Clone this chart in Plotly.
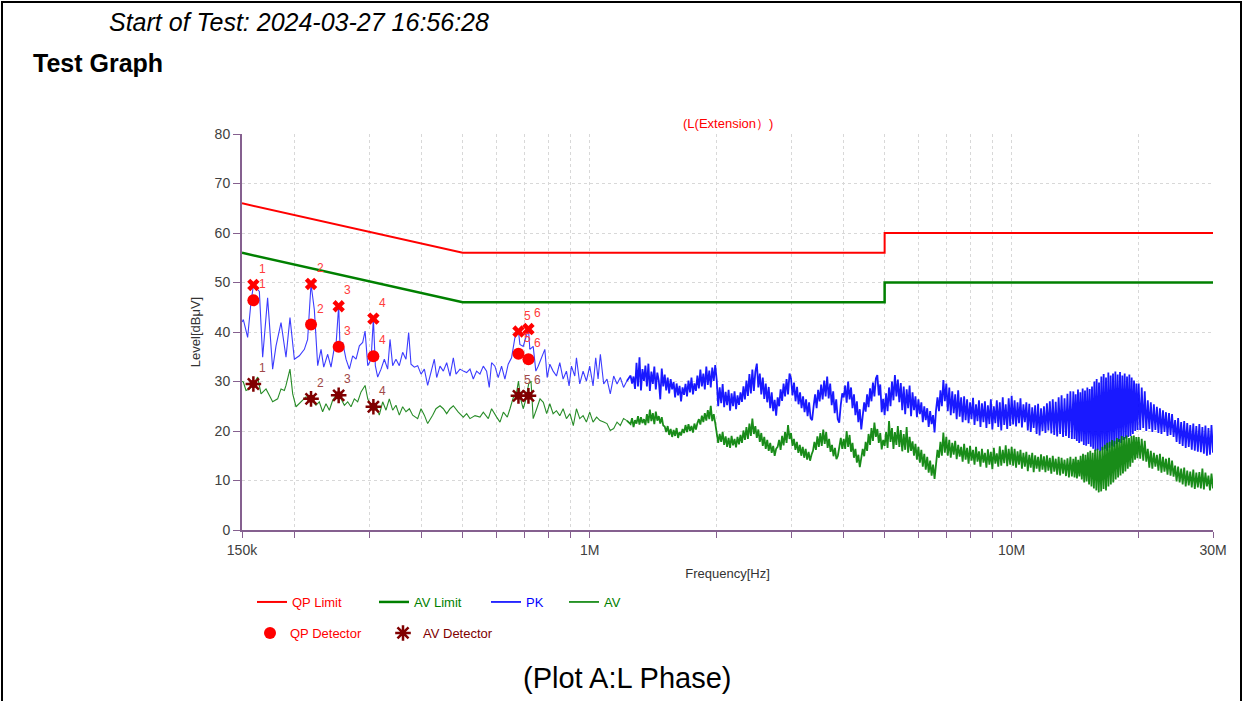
import numpy as np
import plotly.graph_objects as go

# ---------------- data ----------------
qp_limit_hz = [150e3, 500e3, 5e6, 5e6, 30e6]
qp_limit_db = [66, 56, 56, 60, 60]
av_limit_hz = [150e3, 500e3, 5e6, 5e6, 30e6]
av_limit_db = [56, 46, 46, 50, 50]

marker_no = ["1", "2", "3", "4", "5", "6"]
marker_khz = [159.6, 218.6, 254.2, 307.2, 678.0, 716.0]
pk_marker_db = [49.5, 49.7, 45.2, 42.7, 40.1, 40.6]
qp_marker_db = [46.4, 41.5, 37.0, 35.1, 35.6, 34.5]
av_marker_db = [29.5, 26.5, 27.2, 24.9, 27.1, 27.1]

# low-frequency part of the sweep (explicit frequencies, kHz)
pk_low_khz = [150.0, 151.1, 154.7, 157.5, 159.6, 161.9, 164.9, 167.9, 172.5, 177.3,
              180.6, 185.6, 190.7, 194.9, 199.6, 205.1, 210.8, 214.6, 218.6, 222.6,
              226.7, 230.9, 234.3, 239.4, 243.8, 248.3, 250.5, 254.2, 256.1, 259.8,
              264.6, 269.5, 274.4, 279.5, 284.6, 289.8, 293.6, 297.9, 303.4, 307.2,
              310.5, 314.5, 320.3, 326.1, 332.1, 336.4, 341.3, 347.5, 353.9, 360.4,
              367.0, 372.4, 377.2, 384.1, 391.2, 398.4, 405.7, 413.1, 420.7, 428.4,
              434.0, 441.9, 450.0, 458.3, 466.7, 475.2, 482.2, 492.8, 501.8, 511.0,
              520.4, 529.9, 539.6, 549.5, 559.6, 569.8, 578.1, 585.5, 596.2, 607.1,
              618.3, 629.6, 641.1, 652.9, 664.8, 678.0, 683.3, 695.8, 716.0, 721.5,
              734.7, 745.5, 755.0, 768.8, 782.9, 792.9, 804.5, 819.2, 834.2, 849.5,
              865.1, 880.9, 893.8, 905.3, 921.9, 930.3, 947.3, 964.7, 982.3, 1000.3,
              1018.6, 1033.5, 1046.9, 1060.0, 1079.5, 1099, 1119, 1140, 1161, 1182,
              1203, 1225]
pk_low_db = [42.0, 42.5, 38.9, 45.9, 49.4, 48.9, 48.2, 34.9, 46.9, 32.5,
             37.2, 41.9, 34.9, 42.9, 34.5, 35.2, 36.5, 38.5, 49.7, 44.5,
             33.2, 36.5, 32.9, 35.5, 32.9, 36.9, 37.2, 45.3, 36.9, 37.9,
             34.5, 32.5, 35.2, 34.5, 37.2, 37.9, 40.2, 33.2, 34.5, 42.7,
             33.2, 30.9, 32.5, 34.5, 32.5, 38.5, 33.2, 34.5, 33.2, 35.9,
             34.5, 39.9, 33.5, 32.9, 33.2, 31.5, 32.5, 29.2, 31.9, 34.5,
             30.8, 33.1, 32.1, 33.8, 31.1, 34.8, 31.5, 32.5, 32.1, 31.8,
             32.5, 30.5, 32.1, 31.5, 33.1, 32.1, 28.8, 33.8, 33.1, 30.8,
             33.1, 30.5, 33.5, 34.8, 38.8, 40.2, 37.5, 37.1, 40.6, 36.5,
             37.1, 32.1, 33.1, 34.8, 36.5, 30.8, 33.5, 32.1, 31.1, 33.8,
             30.5, 32.1, 29.1, 33.1, 31.1, 34.8, 29.5, 32.1, 30.1, 33.1,
             29.1, 34.8, 30.5, 35.5, 29.5, 30.5, 27.5, 31.1, 29.5, 30.8,
             28.8, 30.1]

av_low_khz = [150.0, 151.1, 153.3, 156.1, 159.6, 163.4, 166.4, 171.0, 174.1, 177.3,
              182.2, 185.6, 189.0, 190.7, 194.9, 197.8, 201.4, 207.0, 212.7, 218.6,
              224.6, 228.7, 232.9, 237.2, 241.6, 246.0, 250.5, 254.2, 257.5, 262.2,
              267.0, 271.9, 276.9, 282.0, 287.2, 293.6, 297.9, 303.4, 307.2, 311.6,
              317.3, 323.2, 329.1, 335.1, 341.3, 347.5, 353.9, 360.4, 367.0, 373.9,
              380.7, 391.2, 398.4, 405.7, 413.1, 424.5, 432.3, 441.9, 450.0, 458.3,
              466.7, 475.2, 488.3, 501.8, 511.0, 520.4, 534.9, 549.5, 559.6, 575.1,
              585.5, 602.0, 613.0, 624.3, 638.0, 647.4, 659.3, 669.0, 678.0, 686.1,
              695.8, 706.5, 716.8, 726.0, 734.7, 748.9, 762.6, 776.6, 790.8, 804.5,
              819.2, 834.2, 849.5, 865.1, 880.9, 898.2, 914.6, 930.3, 947.3, 964.7,
              982.3, 1000.3, 1018.6, 1038.7, 1057.8, 1079.5, 1099, 1119, 1140, 1161,
              1182, 1203, 1225]
av_low_db = [30.0, 29.9, 28.2, 28.5, 29.5, 30.9, 27.5, 28.5, 27.2, 25.9,
             26.5, 28.5, 28.2, 29.2, 32.5, 27.5, 24.9, 25.9, 26.9, 26.4,
             25.2, 25.9, 23.9, 25.5, 24.2, 26.2, 27.2, 26.9, 26.5, 25.2,
             25.9, 24.9, 26.5, 25.9, 27.9, 29.2, 26.5, 24.9, 24.6, 25.2,
             23.2, 25.9, 24.2, 26.5, 24.2, 25.2, 23.2, 24.9, 23.9, 24.5,
             23.2, 22.5, 24.5, 23.2, 21.5, 23.2, 24.5, 25.1, 24.5, 23.5,
             24.5, 25.1, 23.8, 22.8, 23.5, 22.5, 23.1, 22.8, 23.8, 22.5,
             24.5, 22.8, 21.8, 23.8, 22.8, 24.5, 26.8, 27.1, 30.1, 26.5,
             24.5, 26.5, 29.5, 30.1, 22.5, 24.5, 26.5, 25.8, 23.5, 25.5,
             23.5, 24.1, 23.1, 24.5, 22.5, 23.5, 21.1, 24.5, 22.5, 23.1,
             21.8, 23.8, 21.8, 22.8, 22.1, 21.8, 21.5, 20.1, 20.5, 21.8,
             21.1, 22.5, 22.1]

# dense part of the sweep: band edges (MHz) and the readings inside each band
seg_edges_mhz = [1.25, 2, 3, 4, 5, 7, 10, 14, 20, 30]

pk_s1 = [31.2, 29.6, 31.0, 28.5, 33.8, 29.0, 34.9, 28.2, 32.5, 30.1, 33.2, 29.0, 33.6, 28.1, 32.0,
         29.5, 33.0, 28.4, 31.8, 30.2, 26.4, 32.6, 29.0, 31.4, 28.2, 30.8, 27.6, 30.5, 28.4, 29.9,
         26.8, 29.6, 27.2, 29.1, 26.0, 28.8, 27.3, 29.5, 27.0, 30.2, 27.8, 30.8, 27.4, 29.6, 28.1,
         31.2, 28.6, 32.4, 29.0, 31.6, 28.4, 33.0, 29.3, 32.2, 28.8, 32.8, 30.1, 33.3]
pk_s2 = [30.3, 25.0, 28.8, 25.6, 29.5, 24.8, 27.9, 25.2, 28.3, 24.1, 27.6, 25.0, 28.0, 24.4, 27.2,
         25.3, 27.8, 25.9, 29.0, 26.4, 30.2, 27.1, 31.5, 27.6, 32.4, 28.1, 32.0, 33.6, 28.8, 31.6,
         27.4, 30.8, 26.5, 29.6, 25.8, 28.9, 24.6, 27.8, 24.0, 26.3, 23.1, 26.8, 25.0, 28.4, 26.1,
         29.6, 27.0, 30.5, 27.4, 31.6]
pk_s3 = [30.6, 27.2, 29.8, 26.0, 28.9, 25.4, 27.8, 24.6, 27.0, 23.8, 26.4, 23.0, 25.8, 22.6, 22.2,
         25.0, 27.4, 24.6, 28.3, 26.0, 29.4, 26.4, 30.2, 27.0, 31.0, 26.6, 29.6, 25.2, 28.0, 23.6,
         26.4, 22.4, 21.7, 25.2, 27.6]
pk_s4 = [26.8, 29.2, 25.7, 30.0, 26.4, 28.8, 24.6, 27.4, 23.2, 26.0, 21.8, 24.4, 20.3, 23.6, 25.8,
         23.9, 27.4, 24.8, 28.6, 26.0, 29.8, 27.0, 30.6, 31.3, 27.2, 29.4, 23.8, 26.5]
pk_s5 = [23.2, 27.6, 24.0, 28.8, 25.0, 30.0, 26.2, 31.3, 27.0, 30.4, 25.8, 29.7, 24.2, 29.0, 23.4,
         28.4, 24.6, 29.2, 23.0, 27.8, 24.2, 27.0, 22.8, 26.4, 23.4, 25.8, 21.8, 25.0, 22.2, 24.6,
         20.8, 24.0, 21.4, 23.2, 19.7, 24.2, 26.8, 24.0, 28.2, 25.0, 30.3, 26.0]
pk_s6 = [29.6, 24.0, 28.8, 23.2, 28.0, 23.6, 27.4, 22.4, 28.2, 22.9, 26.8, 21.8, 27.0, 22.2, 26.4,
         21.6, 25.8, 22.4, 26.7, 21.2, 25.4, 22.0, 26.2, 20.8, 25.6, 21.8, 26.0, 20.6, 25.2, 21.4,
         26.4, 20.3, 25.0, 21.6, 26.2, 20.8, 25.8, 20.1, 26.8, 21.2, 25.4, 20.4, 26.6, 21.0]
pk_s7 = [27.1, 21.3, 26.2, 20.9, 25.8, 21.6, 26.6, 20.7, 25.4, 21.8, 25.8, 20.1, 25.5, 19.8, 24.8,
         20.6, 25.2, 19.4, 25.5, 19.1, 24.6, 20.0, 25.0, 19.6, 25.6, 20.1, 26.0, 19.5, 26.4, 19.2,
         25.9, 18.9, 26.8, 19.4, 27.2, 18.8, 26.6, 19.0, 27.5, 18.6, 28.0, 18.4]
pk_s8 = [28.0, 18.4, 27.4, 18.0, 28.4, 17.6, 27.8, 17.9, 28.6, 17.2, 28.2, 17.0, 28.8, 17.4, 28.5,
         16.8, 29.0, 16.4, 30.0, 16.0, 30.5, 16.2, 29.8, 15.9, 31.0, 16.1, 31.5, 16.4, 30.8, 16.0,
         31.8, 16.6, 31.2, 17.0, 31.6, 16.8, 32.0, 17.4, 31.4, 17.8, 31.9, 17.6, 31.2, 18.2, 31.6,
         18.5, 31.0, 18.8, 31.4, 19.0, 30.8, 19.4, 30.2, 20.0, 29.6, 20.2]
pk_s9 = [29.6, 20.2, 28.8, 20.6, 28.0, 20.0, 26.2, 20.4, 25.8, 19.8, 25.4, 20.2, 24.9, 19.6, 24.6,
         19.4, 24.2, 19.8, 23.8, 19.0, 23.6, 19.2, 23.4, 18.8, 22.2, 17.8, 22.6, 17.4, 21.8, 17.0,
         22.0, 16.6, 21.6, 16.8, 21.2, 16.2, 21.5, 16.0, 21.0, 15.8, 21.4, 15.7, 20.8, 15.4, 21.1,
         15.0, 20.6, 15.2, 21.2, 15.6]

av_s1 = [21.4, 22.6, 20.8, 22.2, 21.5, 23.0, 21.3, 22.8, 21.6, 22.4, 21.2, 23.4, 21.6, 24.3, 22.0,
         23.6, 21.4, 23.9, 22.1, 23.0, 21.5, 22.8, 21.1, 20.9, 19.8, 21.0, 19.2, 20.4, 18.8, 20.2,
         19.0, 20.6, 18.6, 19.8, 19.1, 20.4, 19.6, 21.2, 19.8, 21.4, 20.0, 21.0, 19.7, 21.5, 20.3,
         21.6, 22.4, 21.3, 23.1, 21.8, 23.6, 22.1, 24.2, 22.4, 25.1, 22.0, 23.4, 21.6]
av_s2 = [20.0, 17.6, 19.4, 17.8, 19.8, 17.2, 18.9, 16.8, 18.6, 16.6, 19.0, 17.1, 18.4, 16.7, 18.8,
         17.3, 19.2, 17.6, 20.1, 18.2, 20.8, 18.4, 21.5, 19.0, 22.5, 19.4, 21.0, 18.6, 20.3, 17.8,
         19.6, 17.0, 18.8, 16.4, 18.2, 16.0, 17.6, 15.6, 17.0, 15.0, 16.4, 16.8, 18.2, 16.2, 19.0,
         17.1, 19.8, 17.6, 21.2, 18.4]
av_s3 = [19.6, 17.0, 18.4, 16.2, 17.8, 15.6, 17.2, 15.0, 16.8, 14.6, 16.4, 14.2, 15.8, 14.0, 15.2,
         16.0, 17.8, 16.2, 18.9, 16.8, 19.6, 17.0, 20.3, 17.4, 19.8, 16.6, 18.4, 15.8, 17.2, 14.9,
         16.6, 14.3, 15.0, 16.8, 18.6, 16.4]
av_s4 = [18.4, 16.4, 20.0, 16.8, 19.2, 15.8, 17.6, 14.6, 16.4, 13.6, 15.2, 12.7, 14.8, 16.4, 14.9,
         17.8, 16.0, 19.4, 17.2, 20.6, 18.0, 21.7, 18.8, 20.4, 17.6, 19.6, 16.3, 18.2]
av_s5 = [17.0, 19.8, 16.6, 22.0, 17.8, 20.6, 16.4, 19.8, 17.2, 21.0, 16.8, 20.2, 15.9, 19.4, 16.2,
         20.8, 15.6, 18.8, 16.0, 17.9, 15.0, 17.4, 14.2, 16.8, 13.6, 16.2, 12.8, 15.4, 12.2, 14.8,
         11.6, 14.0, 11.0, 13.2, 10.3, 13.8, 16.2, 14.6, 17.8, 15.0, 19.7, 15.6]
av_s6 = [18.8, 15.0, 18.2, 14.6, 17.6, 15.2, 18.0, 14.3, 17.2, 14.8, 16.8, 13.8, 17.4, 14.2, 16.6,
         13.4, 17.0, 14.0, 16.2, 13.2, 16.8, 13.8, 15.9, 12.8, 16.4, 13.6, 15.6, 12.6, 16.3, 13.2,
         15.8, 12.3, 16.6, 13.4, 15.5, 12.8, 16.9, 13.0, 16.2, 13.5, 17.1, 12.9, 16.4, 13.2]
av_s7 = [16.8, 13.0, 16.4, 12.6, 15.9, 13.2, 16.2, 12.4, 15.6, 12.8, 15.8, 11.9, 15.2, 12.6, 15.6,
         11.7, 15.1, 12.4, 14.8, 11.8, 15.3, 12.2, 14.9, 11.7, 15.1, 12.0, 14.6, 11.4, 15.0, 11.8,
         14.4, 11.2, 14.8, 11.0, 14.6, 11.4, 14.2, 10.9, 14.5, 10.6, 14.8, 10.8]
av_s8 = [14.4, 10.6, 14.8, 10.4, 14.2, 10.8, 15.0, 10.2, 15.4, 9.6, 15.2, 9.8, 15.7, 9.2, 16.0,
         8.8, 15.6, 8.4, 16.2, 8.0, 16.4, 7.6, 16.0, 7.8, 16.8, 8.3, 17.2, 8.0, 17.6, 8.8,
         17.8, 9.2, 18.2, 9.6, 18.0, 10.2, 18.6, 10.6, 18.4, 11.0, 19.0, 11.4, 18.8, 11.8, 19.1,
         12.4, 18.6, 12.8, 19.0, 13.6, 19.1, 14.2, 18.8, 14.5]
av_s9 = [18.8, 14.4, 18.4, 14.0, 18.0, 13.8, 16.4, 12.6, 16.0, 12.4, 15.6, 12.8, 15.2, 12.0, 15.4,
         11.6, 14.8, 11.8, 14.4, 11.2, 14.6, 11.0, 14.0, 10.8, 13.0, 9.8, 12.8, 9.6, 12.4, 9.2,
         12.6, 8.8, 12.0, 9.0, 11.8, 8.6, 12.2, 8.3, 11.6, 8.6, 11.7, 8.4, 12.4, 8.2, 11.6,
         8.8, 11.0, 8.0, 11.4, 8.4]

x_tick_hz = [150e3, 200e3, 300e3, 400e3, 500e3, 600e3, 700e3, 800e3, 900e3, 1e6,
             2e6, 3e6, 4e6, 5e6, 6e6, 7e6, 8e6, 9e6, 10e6, 20e6, 30e6]
x_tick_text = ["150k", "", "", "", "", "", "", "", "", "1M",
               "", "", "", "", "", "", "", "", "10M", "", "30M"]

# ---------------- build sweep arrays ----------------
assert len(pk_low_khz) == len(pk_low_db)
assert len(av_low_khz) == len(av_low_db)


def build_dense(low_khz, low_db, segs):
    # start from the last low-band reading so the two parts join up
    f = [low_khz[-1] * 1e3]
    v = [low_db[-1]]
    for i, vals in enumerate(segs):
        a = seg_edges_mhz[i] * 1e6
        b = seg_edges_mhz[i + 1] * 1e6
        last = i == len(segs) - 1
        f.extend(np.geomspace(a, b, len(vals), endpoint=last).tolist())
        v.extend(vals)
    return f, v


pk_lo_hz = [k * 1e3 for k in pk_low_khz]
av_lo_hz = [k * 1e3 for k in av_low_khz]
pk_hi_hz, pk_hi_db = build_dense(pk_low_khz, pk_low_db,
                                 [pk_s1, pk_s2, pk_s3, pk_s4, pk_s5, pk_s6, pk_s7, pk_s8, pk_s9])
av_hi_hz, av_hi_db = build_dense(av_low_khz, av_low_db,
                                 [av_s1, av_s2, av_s3, av_s4, av_s5, av_s6, av_s7, av_s8, av_s9])
marker_hz = [k * 1e3 for k in marker_khz]

# ---------------- styling ----------------
W, H = 1249, 701
ML, MR, MT, MB = 242, 36, 134, 171
PW, PH = W - ML - MR, H - MT - MB


def px(xp):
    return (xp - ML) / PW


def py(yp):
    return (H - MB - yp) / PH


SANS = "Liberation Sans, Arial, sans-serif"
AXIS = "#85608f"
RED = "#ff0000"
GREEN = "#008000"
BLUE = "#0000ff"
DARKRED = "#800000"

fig = go.Figure()
fig.add_trace(go.Scatter(x=qp_limit_hz, y=qp_limit_db, mode="lines", name="QP Limit",
                         line=dict(color=RED, width=2), legend="legend"))
fig.add_trace(go.Scatter(x=av_limit_hz, y=av_limit_db, mode="lines", name="AV Limit",
                         line=dict(color=GREEN, width=2.5), legend="legend2"))
# PK: sparse low band drawn thin, dense band drawn a bit heavier (same series)
fig.add_trace(go.Scatter(x=pk_lo_hz, y=pk_low_db, mode="lines", showlegend=False, legendgroup="pk",
                         line=dict(color="rgb(60,60,255)", width=1.1)))
fig.add_trace(go.Scatter(x=pk_hi_hz, y=pk_hi_db, mode="lines", name="PK", legendgroup="pk",
                         line=dict(color="rgba(0,0,255,0.9)", width=1.8), legend="legend3"))
fig.add_trace(go.Scatter(x=av_lo_hz, y=av_low_db, mode="lines", showlegend=False, legendgroup="av",
                         line=dict(color="rgb(40,140,40)", width=1.1)))
fig.add_trace(go.Scatter(x=av_hi_hz, y=av_hi_db, mode="lines", name="AV", legendgroup="av",
                         line=dict(color="rgba(0,128,0,0.9)", width=1.8), legend="legend4"))
fig.add_trace(go.Scatter(x=marker_hz, y=pk_marker_db, mode="markers", showlegend=False,
                         marker=dict(symbol="x", size=11, color=RED, line=dict(width=0))))
fig.add_trace(go.Scatter(x=marker_hz, y=qp_marker_db, mode="markers", name="QP Detector",
                         marker=dict(symbol="circle", size=12, color=RED), legend="legend5"))
fig.add_trace(go.Scatter(x=marker_hz, y=av_marker_db, mode="markers", showlegend=False,
                         marker=dict(symbol="circle", size=8, color=DARKRED)))
fig.add_trace(go.Scatter(x=marker_hz, y=av_marker_db, mode="markers", name="AV Detector",
                         marker=dict(symbol="asterisk-open", size=13, color=DARKRED,
                                     line=dict(width=2.5, color=DARKRED)), legend="legend6"))

annotations = []
for i, no in enumerate(marker_no):
    lx = np.log10(marker_hz[i])
    for yv, col in ((pk_marker_db[i], "#ff3b3b"), (qp_marker_db[i], "#ff3b3b"), (av_marker_db[i], "#a04848")):
        annotations.append(dict(x=lx, y=yv, xref="x", yref="y", text=no, showarrow=False,
                                xshift=9, yshift=16, font=dict(family=SANS, size=12, color=col)))

annotations += [
    dict(text="<i>Start of Test: 2024-03-27 16:56:28</i>", x=px(107), y=py(22), xref="paper", yref="paper",
         xanchor="left", yanchor="middle", showarrow=False, font=dict(family=SANS, size=25, color="#000")),
    dict(text="<b>Test Graph</b>", x=px(31), y=py(63), xref="paper", yref="paper",
         xanchor="left", yanchor="middle", showarrow=False, font=dict(family=SANS, size=25, color="#000")),
    dict(text="(L(Extension）)", x=px(728), y=py(124), xref="paper", yref="paper",
         xanchor="center", yanchor="middle", showarrow=False, font=dict(family=SANS, size=13, color=RED)),
    dict(text="(Plot A:L Phase)", x=px(627), y=py(678), xref="paper", yref="paper",
         xanchor="center", yanchor="middle", showarrow=False, font=dict(family=SANS, size=29, color="#000")),
]


def leg(xpix, ypix, color):
    return dict(x=px(xpix), y=py(ypix), xanchor="left", yanchor="middle", orientation="h",
                bgcolor="rgba(0,0,0,0)", borderwidth=0, itemwidth=30, tracegroupgap=0,
                font=dict(family=SANS, size=13, color=color))


fig.update_layout(
    width=W, height=H,
    margin=dict(l=ML, r=MR, t=MT, b=MB, pad=0),
    paper_bgcolor="white", plot_bgcolor="white",
    showlegend=True,
    legend=leg(252, 602, RED),
    legend2=leg(374, 602, GREEN),
    legend3=leg(486, 602, BLUE),
    legend4=leg(564, 602, GREEN),
    legend5=leg(250, 633, RED),
    legend6=leg(383, 633, DARKRED),
    annotations=annotations,
    shapes=[dict(type="rect", xref="paper", yref="paper", x0=px(2), x1=px(1241), y0=py(720), y1=py(2),
                 line=dict(color="black", width=2), fillcolor="rgba(0,0,0,0)", layer="below")],
    xaxis=dict(type="log", range=[np.log10(150e3), np.log10(30e6)], tickvals=x_tick_hz, ticktext=x_tick_text,
               showline=True, linecolor=AXIS, linewidth=2, ticks="outside", ticklen=6, tickwidth=1,
               tickcolor=AXIS, showgrid=True, gridcolor="#d8d8d8", griddash="dot", gridwidth=1,
               zeroline=False, tickfont=dict(family=SANS, size=14, color="#404040"),
               title=dict(text="Frequency[Hz]", font=dict(family=SANS, size=13, color="#333"), standoff=12)),
    yaxis=dict(range=[0, 80], tickvals=[0, 10, 20, 30, 40, 50, 60, 70, 80],
               showline=True, linecolor=AXIS, linewidth=2, ticks="outside", ticklen=7, tickwidth=1,
               tickcolor=AXIS, showgrid=True, gridcolor="#d8d8d8", griddash="dot", gridwidth=1,
               zeroline=False, tickfont=dict(family=SANS, size=14, color="#404040"),
               title=dict(text="Level[dBμV]", font=dict(family=SANS, size=13, color="#333"), standoff=11)),
    hovermode=False,
)

fig.write_html("out.html", config={"displayModeBar": False},
               post_script="document.body.style.margin='0';document.body.style.overflow='hidden';")
